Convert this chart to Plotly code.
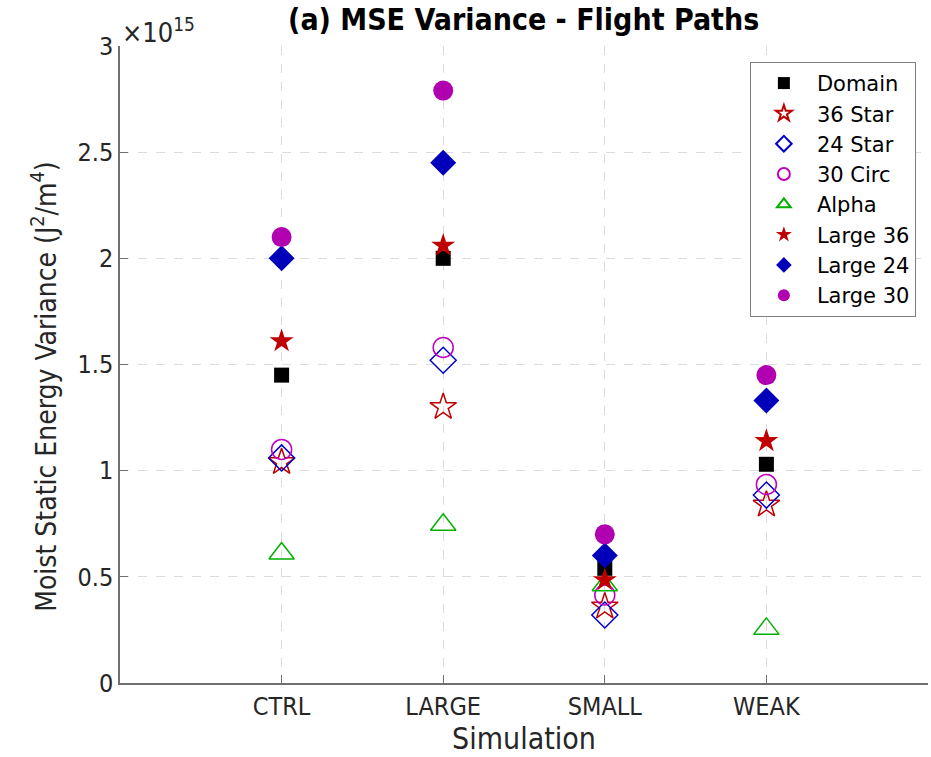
import plotly.graph_objects as go

simulations = ["CTRL", "LARGE", "SMALL", "WEAK"]
x_pos = [1, 2, 3, 4]

# values in units of 1e15 J^2/m^4
domain = [1.45, 2.00, 0.54, 1.03]
star36 = [1.04, 1.30, 0.36, 0.84]
star24 = [1.06, 1.52, 0.32, 0.885]
circ30 = [1.10, 1.58, 0.415, 0.935]
alpha = [0.61, 0.745, 0.46, 0.255]
large36 = [1.61, 2.06, 0.485, 1.14]
large24 = [2.00, 2.45, 0.60, 1.33]
large30 = [2.10, 2.79, 0.70, 1.45]

y_ticks = [0, 0.5, 1, 1.5, 2, 2.5, 3]
y_tick_text = ["0", "0.5", "1", "1.5", "2", "2.5", "3"]

FONT = "DejaVu Sans Condensed, DejaVu Sans, sans-serif"
TXT = "#262626"

series = [
    ("Domain", domain, "square", "#000000", 15, 0),
    ("36 Star", star36, "star-open", "#C00000", 20, 1.5),
    ("24 Star", star24, "diamond-open", "#0000CC", 20, 1.5),
    ("30 Circ", circ30, "circle-open", "#BF00BF", 20, 1.5),
    ("Alpha", alpha, "triangle-up-open", "#00B000", 22, 1.5),
    ("Large 36", large36, "star", "#C00000", 18, 0),
    ("Large 24", large24, "diamond", "#0000BB", 20, 0),
    ("Large 30", large30, "circle", "#B000B0", 20, 0),
]

fig = go.Figure()
for name, vals, sym, col, size, lw in series:
    fig.add_trace(go.Scatter(
        x=x_pos, y=vals, mode="markers", name=name,
        marker=dict(symbol=sym, color=col, size=size,
                    line=dict(color=col, width=lw)),
    ))

fig.update_layout(
    width=931, height=757,
    margin=dict(l=120, r=3, t=46, b=74),
    paper_bgcolor="white", plot_bgcolor="white",
    font=dict(family=FONT, color=TXT, size=25),
    title=dict(text="<b>(a) MSE Variance - Flight Paths</b>",
               x=0.5625, xanchor="center", yref="container",
               y=1 - 19 / 757, yanchor="middle",
               font=dict(family=FONT, size=30, color="#000000")),
    legend=dict(x=0.985, xanchor="right", y=0.975, yanchor="top",
                bgcolor="white", bordercolor="#808080", borderwidth=1,
                font=dict(family="DejaVu Sans", size=21, color="#000000"),
                itemsizing="constant", itemwidth=56),
    showlegend=True,
)
fig.update_xaxes(
    range=[0, 5], tickvals=x_pos, ticktext=simulations,
    showgrid=True, gridcolor="#DCDCDC", griddash="dash", gridwidth=1,
    showline=True, linecolor="#707070", linewidth=1.5,
    ticks="inside", ticklen=8, tickcolor="#707070",
    zeroline=False, mirror=False,
    title=dict(text="Simulation", font=dict(size=30), standoff=6),
    tickfont=dict(size=25),
)
fig.update_yaxes(
    range=[0, 3], tickvals=y_ticks, ticktext=y_tick_text,
    showgrid=True, gridcolor="#DCDCDC", griddash="dash", gridwidth=1,
    showline=True, linecolor="#707070", linewidth=1.5,
    ticks="inside", ticklen=8, tickcolor="#707070",
    zeroline=False, mirror=False,
    tickfont=dict(size=25),
)
fig.add_annotation(
    text="Moist Static Energy Variance (J<sup>2</sup>/m<sup>4</sup>)",
    xref="paper", yref="paper", x=0, y=0.465, xanchor="center",
    yanchor="middle", textangle=-90, showarrow=False, xshift=-75,
    font=dict(family=FONT, size=28, color=TXT),
)
fig.add_annotation(
    text="×10<sup>15</sup>", xref="paper", yref="paper", x=0, y=1,
    xanchor="left", yanchor="bottom", showarrow=False,
    font=dict(family=FONT, size=27, color=TXT), yshift=-4,
)

fig.write_html("out.html")
